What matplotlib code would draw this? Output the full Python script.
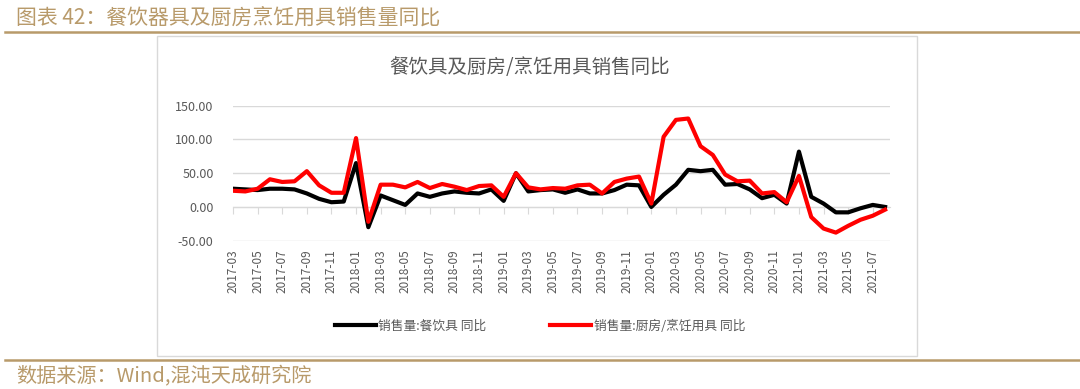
import numpy as np
import matplotlib.pyplot as plt
from matplotlib.lines import Line2D

plt.rcParams['font.family'] = ['Noto Sans CJK SC', 'DejaVu Sans']

# 月份：2017-03 到 2021-08
months = ['2017-03', '2017-04', '2017-05', '2017-06', '2017-07', '2017-08', '2017-09', '2017-10', '2017-11', '2017-12',
          '2018-01', '2018-02', '2018-03', '2018-04', '2018-05', '2018-06', '2018-07', '2018-08', '2018-09', '2018-10',
          '2018-11', '2018-12', '2019-01', '2019-02', '2019-03', '2019-04', '2019-05', '2019-06', '2019-07', '2019-08',
          '2019-09', '2019-10', '2019-11', '2019-12', '2020-01', '2020-02', '2020-03', '2020-04', '2020-05', '2020-06',
          '2020-07', '2020-08', '2020-09', '2020-10', '2020-11', '2020-12', '2021-01', '2021-02', '2021-03', '2021-04',
          '2021-05', '2021-06', '2021-07', '2021-08']

# 销售量:餐饮具 同比
tableware = [27, 26, 25, 27, 27, 26, 20, 12, 7, 8,
             65, -30, 17, 10, 3, 20, 15, 20, 23, 21,
             20, 26, 9, 50, 23, 25, 26, 21, 26, 20,
             20, 25, 33, 32, 0, 18, 33, 55, 53, 55,
             33, 34, 26, 13, 18, 5, 82, 15, 5, -8,
             -8, -2, 3, 0]

# 销售量:厨房/烹饪用具 同比
cookware = [24, 23, 27, 41, 37, 38, 53, 32, 21, 21,
            102, -22, 33, 33, 29, 37, 28, 34, 30, 25,
            31, 32, 15, 50, 29, 26, 28, 27, 32, 33,
            20, 37, 42, 45, 5, 104, 129, 131, 90, 77,
            48, 38, 39, 20, 22, 7, 46, -15, -32, -38,
            -28, -19, -13, -4]

yticks = [-50, 0, 50, 100, 150]

gold = '#b89a6a'
gray = '#595959'

fig = plt.figure(figsize=(10.8, 3.89), dpi=100)

# 页眉、页脚
fig.text(16 / 1080, 0.955, '图表 42：餐饮器具及厨房烹饪用具销售量同比', color=gold, fontsize=15, va='center')
fig.add_artist(Line2D([0.005, 1.0], [0.917, 0.917], color=gold, lw=1.8))
fig.add_artist(Line2D([0.005, 1.0], [0.074, 0.074], color=gold, lw=1.8))
fig.text(16 / 1080, 0.031, '数据来源：Wind,混沌天成研究院', color=gold, fontsize=14.5, va='center')

# 图表外框
fig.add_artist(plt.Rectangle((157 / 1080, 1 - 356 / 389), 760 / 1080, 320 / 389,
                             fill=False, edgecolor='#d9d9d9', lw=1))

ax = fig.add_axes([233 / 1080, 1 - 240.7 / 389, 657 / 1080, 135 / 389])
x = np.arange(len(months))
ax.plot(x, tableware, color='black', lw=3, label='销售量:餐饮具 同比', zorder=3)
ax.plot(x, cookware, color='#ff0000', lw=3, label='销售量:厨房/烹饪用具 同比', zorder=4)

ax.set_xlim(0, 53.4)
ax.set_ylim(-50, 150)
ax.set_yticks(yticks)
ax.set_yticklabels([f'{v:.2f}' for v in yticks])
ax.grid(axis='y', color='#d9d9d9', lw=1)
ax.set_axisbelow(True)
for s in ax.spines.values():
    s.set_visible(False)
ax.tick_params(axis='y', length=0, labelsize=9, labelcolor=gray, pad=14)

ax.set_xticks(x[::2])
ax.set_xticklabels(months[::2], rotation=90)
ax.tick_params(axis='x', length=0, labelsize=8.5, labelcolor=gray, pad=6)

# 零轴及刻度线
sec = ax.secondary_xaxis(0.25)
sec.set_xticks(x[::2])
sec.set_xticklabels([])
sec.spines['bottom'].set_color('#d9d9d9')
sec.tick_params(axis='x', length=5, color='#d9d9d9', direction='out')

fig.text(530 / 1080, 1 - 68 / 389, '餐饮具及厨房/烹饪用具销售同比', color=gray, fontsize=14, ha='center', va='center')

fig.legend(loc='center', bbox_to_anchor=(540 / 1080, 1 - 326 / 389), ncol=2, frameon=False,
           fontsize=9.2, labelcolor=gray, handlelength=3.2, handletextpad=0.2, columnspacing=5.0)

fig.savefig('out.png', dpi=100)
